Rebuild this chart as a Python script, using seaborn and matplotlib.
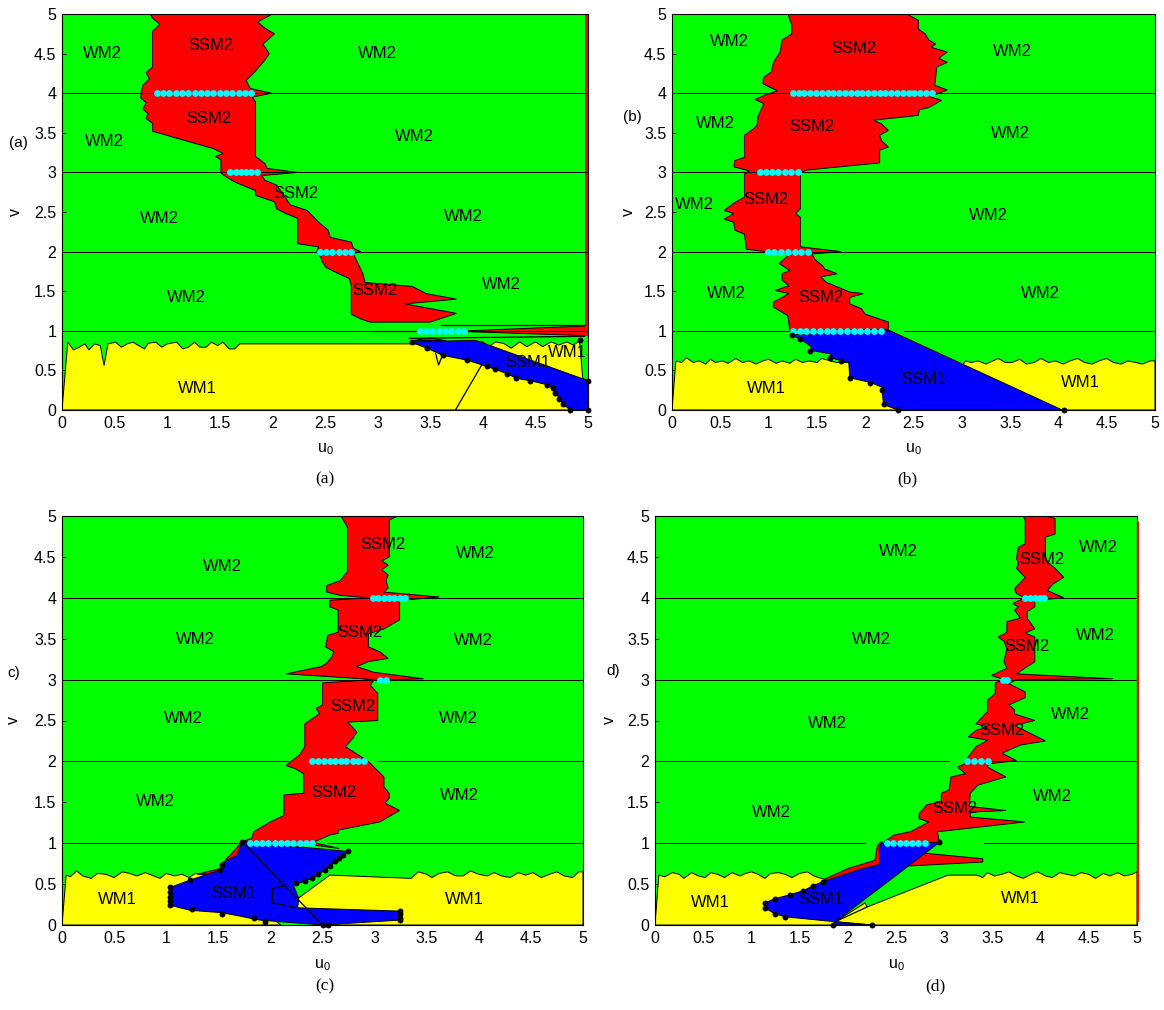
import numpy as np
import matplotlib
matplotlib.use("Agg")
import matplotlib.pyplot as plt
import seaborn as sns
from matplotlib.ticker import MultipleLocator, FuncFormatter

GREEN, YELLOW, RED, BLUE, CYAN = "#00ff00", "#ffff00", "#ff0000", "#0000ff", "#00ffff"

# ---------------- panel (a) ----------------
A_WM1 = [(0, 0), (0.055, 0.856), (0.109, 0.759), (0.164, 0.793), (0.219, 0.835), (0.255, 0.759),
         (0.31, 0.835), (0.364, 0.814), (0.40, 0.561), (0.437, 0.835), (0.51, 0.856), (0.565, 0.793),
         (0.62, 0.835), (0.674, 0.856), (0.729, 0.814), (0.784, 0.771), (0.82, 0.843), (0.893, 0.856),
         (0.948, 0.793), (1.0, 0.835), (1.09, 0.856), (1.15, 0.771), (1.2, 0.793), (1.26, 0.856),
         (1.31, 0.793), (1.37, 0.793), (1.42, 0.856), (1.48, 0.814), (1.53, 0.856), (1.59, 0.771),
         (1.64, 0.771), (1.69, 0.835), (3.35, 0.835), (3.94, 0.86), (4.0, 0.86), (4.06, 0.80),
         (4.12, 0.86), (4.2, 0.84), (4.27, 0.78), (4.35, 0.86), (4.42, 0.80), (4.5, 0.86), (4.57, 0.80),
         (4.65, 0.86), (4.72, 0.82), (4.8, 0.86), (4.86, 0.82), (4.92, 0.87), (4.95, 0.40), (5, 0.37), (5, 0)]
A_SSM2 = [(0.84, 5), (0.86, 4.95), (0.93, 4.87), (0.86, 4.78), (0.86, 4.33), (0.80, 4.26), (0.83, 4.18),
          (0.77, 4.1), (0.75, 4.0), (0.75, 3.94), (0.80, 3.88), (0.77, 3.8), (0.82, 3.74), (0.80, 3.68),
          (0.86, 3.62), (0.86, 3.52), (1.44, 3.30), (1.53, 3.24), (1.46, 3.20), (1.51, 3.16), (1.51, 3.0),
          (1.53, 2.97), (1.64, 2.88), (1.84, 2.77), (1.84, 2.71), (2.02, 2.63), (2.04, 2.54), (2.13, 2.48),
          (2.24, 2.42), (2.24, 2.10), (2.44, 2.06), (2.42, 2.0), (2.46, 1.93), (2.47, 1.88), (2.51, 1.80),
          (2.6, 1.74), (2.73, 1.66), (2.75, 1.57), (2.75, 1.21), (2.84, 1.15), (2.93, 1.11), (3.5, 1.11),
          (3.75, 1.22), (3.26, 1.34), (3.75, 1.40), (3.46, 1.47), (3.33, 1.56), (2.88, 1.61), (2.86, 1.72),
          (2.82, 1.83), (2.77, 1.97), (2.84, 2.0), (2.77, 2.04), (2.75, 2.12), (2.55, 2.18), (2.53, 2.27),
          (2.44, 2.37), (2.33, 2.52), (2.17, 2.59), (2.04, 2.84), (1.93, 2.90), (1.90, 2.96), (2.24, 3.0),
          (1.95, 3.05), (1.93, 3.11), (1.84, 3.2), (1.84, 3.89), (1.81, 3.95), (1.99, 4.0), (1.79, 4.06),
          (1.75, 4.16), (1.84, 4.28), (1.93, 4.42), (1.97, 4.5), (1.91, 4.62), (2.02, 4.75), (1.93, 4.82),
          (1.86, 4.90), (2.0, 5)]
A_SSM2_STRIPE = [(3.85, 1.0), (4.95, 1.06), (4.98, 1.06), (4.98, 0.94), (4.95, 0.94), (3.85, 0.99)]
A_SSM2_BIT = [(3.35, 0.88), (3.65, 0.875), (3.5, 0.91)]
A_RED_EDGE = [(4.97, 0.93), (5, 0.93), (5, 5), (4.97, 5)]
A_SSM1 = [(3.33, 0.86), (3.93, 0.88), (5, 0.37), (5, 0), (4.83, 0), (4.76, 0.08), (4.72, 0.16),
          (4.67, 0.27), (4.61, 0.32), (4.45, 0.37), (4.32, 0.40), (4.23, 0.46), (4.04, 0.55),
          (3.85, 0.63), (3.62, 0.69), (3.47, 0.78), (3.35, 0.84)]
A_LINES = [[(3.74, 0), (3.99, 0.57)], [(2.95, 1.0), (3.40, 1.0)], [(3.3, 0.905), (4.97, 0.93)],
           [(3.6, 1.07), (4.97, 1.07)], [(3.55, 0.72), (3.58, 0.57), (3.62, 0.70)]]
A_HLINES = [(1, 0.04, 5), (2, 0.04, 5), (3, 0.04, 5), (4, 0.04, 5)]
A_CYAN = {4: [0.90, 0.96, 1.02, 1.08, 1.14, 1.20, 1.26, 1.32, 1.38, 1.44, 1.50, 1.56, 1.62, 1.68, 1.74, 1.80],
          3: [1.60, 1.65, 1.70, 1.75, 1.80, 1.85],
          2: [2.45, 2.51, 2.57, 2.63, 2.69, 2.75],
          1: [3.40, 3.46, 3.52, 3.58, 3.64, 3.70, 3.76, 3.82]}
A_DOTS = [(3.33, 0.86), (3.47, 0.78), (3.62, 0.69), (3.85, 0.63), (4.04, 0.55), (4.12, 0.52), (4.23, 0.46),
          (4.32, 0.40), (4.45, 0.37), (4.61, 0.32), (4.67, 0.28), (4.69, 0.22), (4.72, 0.14), (4.76, 0.08),
          (4.83, 0), (5, 0), (5, 0.37), (4.92, 0.89)]
A_LABELS = [("WM2", 0.38, 4.5), ("SSM2", 1.42, 4.6), ("WM2", 3.0, 4.5), ("SSM2", 1.40, 3.68),
            ("WM2", 0.40, 3.39), ("WM2", 3.35, 3.45), ("SSM2", 2.22, 2.73), ("WM2", 0.93, 2.42),
            ("WM2", 3.82, 2.44), ("WM2", 4.18, 1.59), ("SSM2", 2.97, 1.51), ("WM2", 1.18, 1.42),
            ("WM1", 4.8, 0.73), ("SSM1", 4.43, 0.6), ("WM1", 1.29, 0.27)]

# ---------------- panel (b) ----------------
B_WM1_LEFT = [(0, 0), (0.04, 0.62), (0.1, 0.6), (0.15, 0.66), (0.22, 0.6), (0.28, 0.62), (0.35, 0.58),
              (0.4, 0.64), (0.45, 0.6), (0.52, 0.62), (0.58, 0.59), (0.66, 0.65), (0.73, 0.6), (0.8, 0.62),
              (0.87, 0.58), (0.94, 0.62), (1.0, 0.64), (1.08, 0.59), (1.14, 0.62), (1.22, 0.59), (1.28, 0.64),
              (1.35, 0.60), (1.42, 0.62), (1.5, 0.60), (1.55, 0.65), (1.64, 0.62), (1.7, 0.6), (2.3, 0.6), (2.4, 0)]
B_WM1_RIGHT = [(3.04, 0.62), (3.1, 0.6), (3.17, 0.62), (3.25, 0.58), (3.32, 0.62), (3.38, 0.65), (3.45, 0.6),
               (3.52, 0.6), (3.6, 0.64), (3.67, 0.58), (3.75, 0.6), (3.82, 0.65), (3.9, 0.6), (3.97, 0.62),
               (4.05, 0.58), (4.12, 0.62), (4.2, 0.65), (4.27, 0.6), (4.35, 0.58), (4.42, 0.62), (4.5, 0.65),
               (4.57, 0.6), (4.65, 0.58), (4.72, 0.62), (4.8, 0.6), (4.87, 0.58), (4.95, 0.62), (5, 0.62),
               (5, 0), (3.9, 0), (3.0, 0.55)]
B_SSM2 = [(1.20, 5), (1.24, 4.86), (1.24, 4.75), (1.14, 4.67), (1.12, 4.52), (1.05, 4.39), (1.03, 4.27),
          (0.95, 4.2), (0.94, 4.12), (1.09, 4.03), (0.95, 3.97), (0.86, 3.92), (0.95, 3.87), (0.89, 3.70),
          (0.88, 3.59), (0.80, 3.51), (0.75, 3.47), (0.75, 3.19), (0.65, 3.15), (0.64, 3.07), (0.80, 3.02),
          (0.75, 2.98), (0.75, 2.69), (0.65, 2.62), (0.54, 2.52), (0.64, 2.48), (0.54, 2.41), (0.64, 2.37),
          (0.65, 2.27), (0.75, 2.22), (0.77, 2.03), (0.97, 2.0), (1.22, 1.97), (1.11, 1.85), (1.22, 1.76),
          (1.14, 1.72), (1.14, 1.64), (1.21, 1.57), (1.07, 1.51), (1.21, 1.47), (1.05, 1.36), (1.05, 1.30),
          (1.20, 1.19), (1.22, 1.0), (2.24, 1.02), (2.24, 1.11), (2.0, 1.21), (1.96, 1.28), (1.84, 1.34),
          (1.84, 1.42), (1.98, 1.47), (1.84, 1.49), (1.60, 1.61), (1.54, 1.68), (1.71, 1.72), (1.58, 1.78),
          (1.56, 1.82), (1.48, 1.90), (1.45, 1.97), (1.75, 2.0), (1.33, 2.06), (1.33, 2.43), (1.28, 2.48),
          (1.33, 2.54), (1.33, 3.0), (1.40, 3.03), (2.15, 3.12), (2.15, 3.28), (2.24, 3.32), (2.17, 3.40),
          (2.15, 3.47), (2.24, 3.53), (2.17, 3.61), (2.09, 3.66), (2.55, 3.72), (2.56, 3.79), (2.66, 3.82),
          (2.79, 3.91), (2.68, 3.95), (2.72, 3.98), (2.85, 4.04), (2.72, 4.10), (2.73, 4.2), (2.74, 4.33),
          (2.85, 4.39), (2.76, 4.44), (2.85, 4.52), (2.68, 4.58), (2.73, 4.62), (2.66, 4.67), (2.62, 4.75),
          (2.55, 4.81), (2.55, 4.92), (2.43, 5)]
B_SSM1 = [(1.24, 0.95), (2.24, 1.01), (4.04, 0), (2.34, 0), (2.19, 0.07), (2.17, 0.29), (2.05, 0.35),
          (1.90, 0.39), (1.84, 0.41), (1.83, 0.60), (1.64, 0.66), (1.64, 0.71), (1.45, 0.75), (1.43, 0.81),
          (1.35, 0.88)]
B_LINES = []
B_HLINES = [(1, 0.04, 2.24), (1, 2.4, 5), (2, 0.04, 5), (3, 0.04, 5), (4, 0.04, 5)]
B_CYAN = {4: [1.25, 1.31, 1.37, 1.43, 1.49, 1.55, 1.61, 1.67, 1.73, 1.79, 1.85, 1.91, 1.97, 2.03, 2.09,
              2.15, 2.21, 2.27, 2.33, 2.39, 2.45, 2.51, 2.57, 2.63, 2.69],
          3: [0.91, 0.97, 1.04, 1.10, 1.17, 1.23, 1.30],
          2: [0.99, 1.06, 1.13, 1.20, 1.27, 1.34, 1.41],
          1: [1.25, 1.32, 1.39, 1.46, 1.53, 1.60, 1.67, 1.74, 1.81, 1.88, 1.95, 2.02, 2.09, 2.16]}
B_DOTS = [(1.24, 0.95), (1.32, 0.9), (1.43, 0.75), (1.64, 0.66), (1.75, 0.62), (1.84, 0.40), (2.05, 0.34),
          (2.17, 0.25), (2.19, 0.07), (2.34, 0), (4.06, 0)]
B_LABELS = [("WM2", 0.59, 4.65), ("SSM2", 1.88, 4.57), ("WM2", 3.52, 4.53), ("WM2", 0.45, 3.62),
            ("SSM2", 1.45, 3.58), ("WM2", 3.50, 3.49), ("WM2", 0.23, 2.60), ("SSM2", 0.97, 2.66),
            ("WM2", 3.28, 2.45), ("WM2", 0.56, 1.47), ("SSM2", 1.54, 1.42), ("WM2", 3.81, 1.47),
            ("WM1", 0.98, 0.27), ("SSM1", 2.61, 0.38), ("WM1", 4.23, 0.35)]

# ---------------- panel (c) ----------------
C_WM1_LEFT = [(0, 0), (0.04, 0.61), (0.08, 0.59), (0.14, 0.66), (0.2, 0.6), (0.28, 0.57), (0.34, 0.63),
              (0.42, 0.62), (0.5, 0.58), (0.58, 0.65), (0.65, 0.63), (0.72, 0.6), (0.8, 0.64), (0.88, 0.6),
              (0.94, 0.57), (1.0, 0.63), (1.08, 0.6), (1.15, 0.62), (1.22, 0.58), (1.28, 0.63), (1.35, 0.62),
              (1.5, 0.6), (2.1, 0)]
C_WM1_RIGHT = [(2.57, 0.61), (3.35, 0.57), (3.42, 0.65), (3.5, 0.62), (3.55, 0.58), (3.62, 0.63), (3.7, 0.65),
               (3.78, 0.6), (3.85, 0.6), (3.92, 0.66), (4.0, 0.62), (4.08, 0.6), (4.15, 0.64), (4.22, 0.6),
               (4.3, 0.58), (4.38, 0.64), (4.45, 0.61), (4.52, 0.64), (4.6, 0.58), (4.68, 0.62), (4.75, 0.65),
               (4.82, 0.6), (4.9, 0.58), (4.96, 0.65), (5, 0.65), (5, 0), (2.5, 0), (2.26, 0.21), (2.27, 0.33)]
C_SSM2 = [(2.68, 5), (2.74, 4.86), (2.74, 4.32), (2.67, 4.21), (2.54, 4.15), (2.54, 4.07), (2.67, 4.03),
          (2.94, 4.0), (2.57, 3.97), (2.57, 3.89), (2.65, 3.85), (2.65, 3.58), (2.55, 3.54), (2.53, 3.40),
          (2.61, 3.34), (2.59, 3.28), (2.54, 3.20), (2.49, 3.16), (2.15, 3.07), (2.52, 3.04), (3.0, 3.0),
          (2.50, 2.96), (2.50, 2.69), (2.44, 2.65), (2.47, 2.58), (2.33, 2.46), (2.33, 2.18), (2.28, 2.08),
          (2.15, 1.95), (2.24, 1.91), (2.32, 1.85), (2.32, 1.61), (2.13, 1.59), (2.13, 1.34), (2.0, 1.26),
          (1.84, 1.14), (1.82, 1.06), (1.73, 1.02), (2.35, 0.99), (2.66, 0.935), (2.41, 1.01), (2.57, 1.10),
          (2.65, 1.12), (2.65, 1.16), (3.05, 1.26), (3.24, 1.40), (3.10, 1.49), (3.14, 1.55), (3.14, 1.61),
          (3.09, 1.69), (3.09, 1.81), (2.94, 2.0), (2.72, 2.18), (2.79, 2.28), (2.83, 2.36), (2.74, 2.48),
          (3.03, 2.50), (3.03, 2.83), (2.96, 2.93), (2.99, 2.99), (3.47, 3.01), (2.99, 3.09), (2.83, 3.16),
          (2.94, 3.22), (3.04, 3.24), (3.13, 3.26), (3.05, 3.34), (2.94, 3.40), (2.94, 3.56), (3.09, 3.62),
          (3.24, 3.73), (3.24, 3.97), (3.36, 3.98), (3.62, 4.01), (3.09, 4.07), (3.13, 4.12), (3.11, 4.21),
          (3.13, 4.28), (3.07, 4.34), (3.13, 4.40), (3.07, 4.45), (3.14, 4.5), (3.14, 4.95), (3.22, 5)]
C_SSM2_SLIVER = [(1.73, 1.02), (1.66, 0.92), (1.62, 0.86), (1.57, 0.80), (1.56, 0.74), (1.62, 0.70),
                 (1.45, 0.67), (1.30, 0.62), (1.40, 0.62), (1.52, 0.67), (1.54, 0.76), (1.68, 0.85)]
C_SSM1 = [(1.73, 1.02), (2.74, 0.90), (2.65, 0.79), (2.54, 0.69), (2.43, 0.59), (2.32, 0.53), (2.22, 0.49),
          (2.27, 0.33), (2.26, 0.21), (3.24, 0.17), (3.24, 0.06), (2.5, 0.0), (1.90, 0.06), (1.54, 0.15),
          (1.23, 0.18), (1.04, 0.24), (1.04, 0.46), (1.23, 0.55), (1.52, 0.67), (1.54, 0.76), (1.68, 0.85)]
C_LINES = [[(1.73, 1.02), (2.5, 0.0)], [(2.14, 0.48), (2.02, 0.45), (2.02, 0.27), (2.26, 0.21)]]
C_HLINES = [(1, 0.04, 1.73), (1, 2.54, 5), (2, 0.04, 2.19), (2, 3.03, 5), (3, 0.04, 5), (4, 0.04, 5)]
C_CYAN = {4: [2.98, 3.03, 3.09, 3.14, 3.19, 3.24, 3.29],
          3: [3.05, 3.11],
          2: [2.40, 2.46, 2.51, 2.57, 2.62, 2.68, 2.73, 2.79, 2.84, 2.90],
          1: [1.80, 1.86, 1.92, 1.98, 2.04, 2.10, 2.16, 2.22, 2.28, 2.34, 2.40]}
C_DOTS = [(1.73, 1.02), (2.74, 0.90), (2.70, 0.86), (2.66, 0.82), (2.62, 0.78), (2.57, 0.72), (2.52, 0.67),
          (2.46, 0.62), (2.40, 0.57), (2.33, 0.54), (2.25, 0.51), (1.04, 0.46), (1.04, 0.40), (1.04, 0.34),
          (1.04, 0.29), (1.04, 0.24), (1.25, 0.19), (1.54, 0.14), (1.84, 0.09), (1.95, 0.04), (2.5, 0),
          (2.55, 0), (3.24, 0.17), (3.24, 0.13), (3.24, 0.09), (3.24, 0.06), (1.23, 0.55), (1.52, 0.67),
          (1.54, 0.73)]
C_LABELS = [("WM2", 1.54, 4.38), ("SSM2", 3.08, 4.65), ("WM2", 3.97, 4.54), ("WM2", 1.28, 3.49),
            ("SSM2", 2.86, 3.57), ("WM2", 3.95, 3.48), ("WM2", 1.17, 2.52), ("SSM2", 2.79, 2.67),
            ("WM2", 3.80, 2.52), ("WM2", 0.90, 1.51), ("SSM2", 2.61, 1.62), ("WM2", 3.81, 1.58),
            ("WM1", 0.53, 0.31), ("SSM1", 1.65, 0.39), ("WM1", 3.86, 0.31)]

# ---------------- panel (d) ----------------
D_WM1_LEFT = [(0, 0), (0.04, 0.61), (0.1, 0.59), (0.18, 0.64), (0.25, 0.62), (0.3, 0.57), (0.38, 0.64),
              (0.45, 0.6), (0.52, 0.58), (0.58, 0.64), (0.65, 0.62), (0.72, 0.58), (0.8, 0.64), (0.88, 0.6),
              (0.94, 0.63), (1.0, 0.65), (1.07, 0.62), (1.14, 0.57), (1.2, 0.63), (1.28, 0.64), (1.35, 0.62),
              (1.42, 0.58), (1.5, 0.63), (1.58, 0.65), (1.65, 0.6), (1.72, 0.57), (1.76, 0.56), (1.87, 0.04),
              (1.85, 0)]
D_WM1_RIGHT = [(1.87, 0.04), (2.18, 0.27), (2.20, 0.22), (3.04, 0.61), (3.34, 0.61), (3.4, 0.58), (3.45, 0.64),
               (3.52, 0.6), (3.6, 0.62), (3.67, 0.65), (3.75, 0.6), (3.82, 0.57), (3.9, 0.62), (3.97, 0.65),
               (4.05, 0.6), (4.12, 0.58), (4.2, 0.64), (4.27, 0.62), (4.35, 0.6), (4.42, 0.64), (4.5, 0.62),
               (4.57, 0.57), (4.65, 0.63), (4.72, 0.6), (4.8, 0.64), (4.87, 0.6), (4.95, 0.62), (5, 0.65),
               (5, 0), (2.25, 0)]
D_SSM2 = [(3.82, 5), (3.84, 4.95), (3.84, 4.66), (3.77, 4.62), (3.75, 4.48), (3.77, 4.42), (3.75, 4.36),
          (3.84, 4.25), (3.73, 4.11), (3.75, 4.05), (3.84, 4.0), (3.71, 3.93), (3.77, 3.89), (3.73, 3.85),
          (3.79, 3.75), (3.65, 3.71), (3.65, 3.58), (3.56, 3.52), (3.62, 3.47), (3.65, 3.38), (3.62, 3.22),
          (3.65, 3.14), (3.49, 3.05), (3.62, 3.0), (3.53, 2.96), (3.53, 2.83), (3.45, 2.75), (3.45, 2.61),
          (3.33, 2.46), (3.45, 2.42), (3.33, 2.38), (3.25, 2.30), (3.45, 2.26), (3.33, 2.18), (3.24, 2.04),
          (3.26, 2.0), (3.14, 1.93), (3.22, 1.85), (3.07, 1.81), (3.05, 1.65), (2.97, 1.61), (2.97, 1.51),
          (2.82, 1.47), (2.74, 1.36), (2.74, 1.30), (2.84, 1.26), (2.65, 1.14), (2.48, 1.10), (2.38, 1.02),
          (2.38, 1.0), (2.95, 1.01), (2.93, 1.14), (3.84, 1.26), (3.27, 1.32), (3.27, 1.38), (3.64, 1.40),
          (3.26, 1.45), (3.27, 1.61), (3.35, 1.71), (3.52, 1.77), (3.64, 1.81), (3.45, 1.93), (3.46, 1.97),
          (3.75, 2.01), (3.60, 2.10), (3.79, 2.20), (4.05, 2.25), (3.73, 2.44), (3.94, 2.50), (3.73, 2.58),
          (3.73, 2.63), (3.67, 2.69), (3.84, 2.78), (3.84, 2.85), (3.67, 2.95), (3.75, 3.0), (4.75, 3.01),
          (3.75, 3.07), (3.94, 3.22), (3.94, 3.52), (3.84, 3.57), (3.94, 3.62), (3.86, 3.75), (3.86, 3.83),
          (3.94, 3.89), (3.94, 3.97), (4.05, 3.98), (4.24, 4.0), (4.07, 4.09), (4.13, 4.17), (4.24, 4.25),
          (4.15, 4.36), (4.05, 4.46), (4.05, 4.74), (4.15, 4.78), (4.15, 4.97), (4.05, 5)]
D_SSM2_SLIVER = [(1.76, 0.56), (2.0, 0.69), (2.28, 0.79), (2.31, 0.98), (2.36, 1.02), (2.33, 0.96),
                 (2.33, 0.73), (1.78, 0.54)]
D_SSM2_SPIKE = [(2.78, 0.88), (3.40, 0.81), (3.40, 0.77), (2.61, 0.72)]
D_RED_EDGE = [(5.012, 0.05), (5.012, 4.93)]
D_SSM1 = [(2.35, 1.0), (2.95, 1.01), (1.87, 0.04), (1.35, 0.10), (1.24, 0.14), (1.14, 0.21), (1.14, 0.27),
          (1.24, 0.32), (1.40, 0.37), (1.54, 0.42), (1.64, 0.48), (1.74, 0.53), (2.0, 0.63), (2.15, 0.69),
          (2.30, 0.73), (2.33, 0.75), (2.33, 0.96)]
D_SSM1_TIP = [(1.85, 0), (2.25, 0), (1.87, 0.04)]
D_LINES = [[(1.87, 0.04), (2.20, 0.22)]]
D_HLINES = [(1, 0.04, 2.18), (1, 3.41, 5), (2, 0.04, 3.05), (2, 3.45, 5), (3, 0.04, 5), (4, 0.04, 5)]
D_CYAN = {4: [3.84, 3.89, 3.94, 3.99, 4.04],
          3: [3.61, 3.65],
          2: [3.24, 3.31, 3.38, 3.45],
          1: [2.41, 2.47, 2.54, 2.60, 2.67, 2.73, 2.80]}
D_DOTS = [(1.14, 0.27), (1.14, 0.21), (1.24, 0.32), (1.24, 0.14), (1.35, 0.10), (1.40, 0.37), (1.54, 0.42),
          (1.64, 0.48), (1.74, 0.53), (2.95, 1.01), (1.85, 0), (2.25, 0)]
D_LABELS = [("WM2", 2.53, 4.57), ("SSM2", 4.01, 4.47), ("WM2", 4.60, 4.62), ("WM2", 2.25, 3.49),
            ("SSM2", 3.86, 3.40), ("WM2", 4.57, 3.54), ("WM2", 1.79, 2.46), ("SSM2", 3.60, 2.38),
            ("WM2", 4.31, 2.57), ("WM2", 1.21, 1.38), ("SSM2", 3.11, 1.43), ("WM2", 4.12, 1.57),
            ("WM1", 0.57, 0.27), ("SSM1", 1.72, 0.31), ("WM1", 3.79, 0.33)]


sns.set_style("ticks")
plt.rcParams["font.family"] = ["Liberation Sans", "DejaVu Sans"]
plt.rcParams["mathtext.default"] = "regular"
plt.rcParams["text.color"] = "black"
plt.rcParams["axes.labelcolor"] = "black"


def fill(ax, poly, color, z, edge="black"):
    xy = np.array(poly)
    ax.fill(xy[:, 0], xy[:, 1], facecolor=color, edgecolor=edge, lw=0.7, zorder=z)


def draw_panel(ax, yellow, red, blue, hlines, lines, cyan, dots, labels):
    ax.set_facecolor(GREEN)
    for p in yellow:
        fill(ax, p, YELLOW, 1)
    for p in red:
        fill(ax, p, RED, 1.2)
    for p in blue:
        fill(ax, p, BLUE, 1.4)
    for v, u0, u1 in hlines:
        ax.plot([u0, u1], [v, v], color="black", lw=0.7, zorder=1.6)
    for seg in lines:
        xy = np.array(seg)
        ax.plot(xy[:, 0], xy[:, 1], color="black", lw=0.9, zorder=1.7)
    cu = [u for v, us in cyan.items() for u in us]
    cv = [v for v, us in cyan.items() for u in us]
    sns.scatterplot(x=cu, y=cv, color=CYAN, s=24, linewidth=0, ax=ax, zorder=3)
    d = np.array(dots)
    sns.scatterplot(x=d[:, 0], y=d[:, 1], color="black", s=18, linewidth=0, ax=ax, zorder=3, clip_on=False)
    for txt, u, v in labels:
        ax.text(u, v, txt, ha="center", va="center", fontsize=12, color="black", zorder=4)
    ax.set_xlim(0, 5)
    ax.set_ylim(0, 5)
    ax.xaxis.set_major_locator(MultipleLocator(0.5))
    ax.yaxis.set_major_locator(MultipleLocator(0.5))
    fmt = FuncFormatter(lambda x, p: "%g" % x)
    ax.xaxis.set_major_formatter(fmt)
    ax.yaxis.set_major_formatter(fmt)
    ax.tick_params(direction="in", length=3, width=0.6, labelsize=11.5, pad=4, colors="black")
    for s in ax.spines.values():
        s.set_linewidth(0.8)
        s.set_color("black")
    ax.set_xlabel(r"u$_0$", fontsize=11.5)
    ax.set_ylabel("v", fontsize=11.5)


W, H = 1164, 1010
fig = plt.figure(figsize=(W / 100, H / 100), dpi=100)


def add_axes(l, r, t, b):
    return fig.add_axes([l / W, 1 - b / H, (r - l) / W, (b - t) / H])


ax_a = add_axes(62, 588, 14, 410)
ax_b = add_axes(672, 1155, 14, 410)
ax_c = add_axes(62, 583, 516, 925)
ax_d = add_axes(655, 1137, 516, 925)

draw_panel(ax_a, [A_WM1], [A_SSM2, A_SSM2_STRIPE, A_SSM2_BIT], [A_SSM1], A_HLINES, A_LINES,
           A_CYAN, A_DOTS, A_LABELS)
fill(ax_a, A_RED_EDGE, RED, 1.25, edge="none")
draw_panel(ax_b, [B_WM1_LEFT, B_WM1_RIGHT], [B_SSM2], [B_SSM1], B_HLINES, B_LINES,
           B_CYAN, B_DOTS, B_LABELS)
draw_panel(ax_c, [C_WM1_LEFT, C_WM1_RIGHT], [C_SSM2, C_SSM2_SLIVER], [C_SSM1], C_HLINES, C_LINES,
           C_CYAN, C_DOTS, C_LABELS)
draw_panel(ax_d, [D_WM1_LEFT, D_WM1_RIGHT], [D_SSM2, D_SSM2_SLIVER, D_SSM2_SPIKE], [D_SSM1, D_SSM1_TIP],
           D_HLINES, D_LINES, D_CYAN, D_DOTS, D_LABELS)
red_edge = np.array(D_RED_EDGE)
ax_d.plot(red_edge[:, 0], red_edge[:, 1], color=RED, lw=1.6, clip_on=False, zorder=3)

# axis label placement
for ax, xl in [(ax_a, -0.078), (ax_b, -0.078), (ax_c, -0.078), (ax_d, -0.078)]:
    ax.xaxis.set_label_coords(0.5, xl)
for ax, yl in [(ax_a, -0.074), (ax_b, -0.074), (ax_c, -0.078), (ax_d, -0.078)]:
    ax.yaxis.set_label_coords(yl, 0.5)

# side tags and captions
fig.text(18 / W, 1 - 143 / H, "(a)", ha="center", va="center", fontsize=11)
fig.text(632 / W, 1 - 117 / H, "(b)", ha="center", va="center", fontsize=11)
fig.text(20 / W, 1 - 673 / H, "c)", ha="right", va="center", fontsize=11)
fig.text(620 / W, 1 - 671 / H, "d)", ha="right", va="center", fontsize=11)
for x, y, t in [(325, 479, "(a)"), (907, 479, "(b)"), (325, 986, "(c)"), (935, 986, "(d)")]:
    fig.text(x / W, 1 - y / H, t, ha="center", va="center", fontsize=12.5, family="Liberation Serif")

fig.savefig("out.png", dpi=100)
